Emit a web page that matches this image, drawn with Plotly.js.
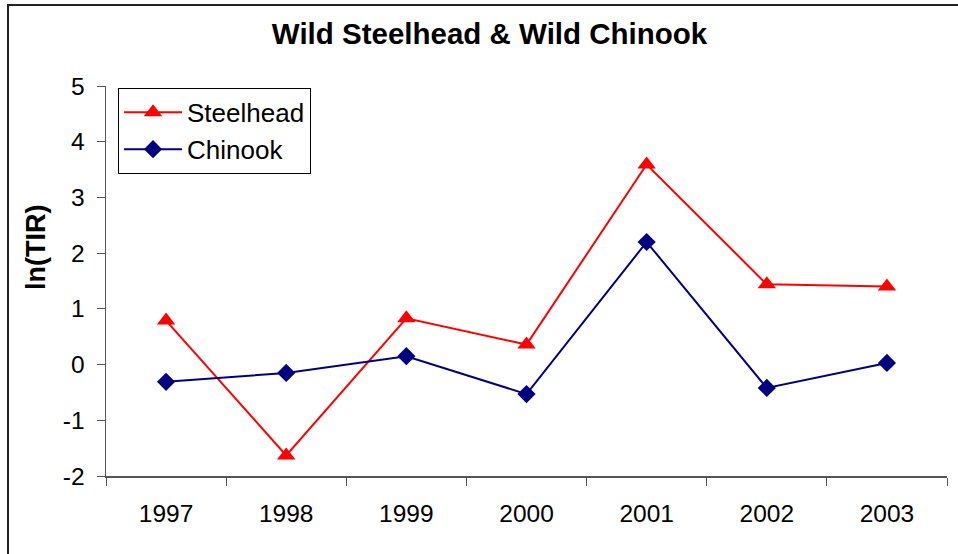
<!DOCTYPE html>
<html>
<head>
<meta charset="utf-8">
<script src="https://cdn.plot.ly/plotly-3.0.1.min.js"></script>
<style>
html,body{margin:0;padding:0;background:#fff;}
#wrap{position:relative;width:958px;height:554px;overflow:hidden;}
#chart{position:absolute;left:0;top:0;width:958px;height:554px;}
#frame{position:absolute;left:7px;top:4px;width:1000px;height:600px;border-left:2px solid #222;border-top:2px solid #222;pointer-events:none;}
</style>
</head>
<body>
<div id="wrap"><div id="chart"></div><div id="frame"></div></div>
<script>
const years = ['1997','1998','1999','2000','2001','2002','2003'];
const steelhead = [0.79, -1.63, 0.83, 0.36, 3.59, 1.44, 1.40];
const chinook = [-0.31, -0.15, 0.15, -0.53, 2.20, -0.42, 0.03];
const yTicks = [-2, -1, 0, 1, 2, 3, 4, 5];
const yTickText = ['-2', '-1', '0', '1', '2', '3', '4', '5'];

const font = 'Liberation Sans, Arial, sans-serif';
const traces = [
  {x: years, y: steelhead, name: 'Steelhead', type: 'scatter', mode: 'lines+markers',
   line: {color: '#ff0000', width: 2}, marker: {symbol: 'triangle-up', size: 16, color: '#ff0000'}},
  {x: years, y: chinook, name: 'Chinook', type: 'scatter', mode: 'lines+markers',
   line: {color: '#000080', width: 2}, marker: {symbol: 'diamond', size: 14, color: '#000080'}}
];
const layout = {
  width: 958, height: 554,
  margin: {l: 106, r: 11, t: 86, b: 78},
  paper_bgcolor: '#fff', plot_bgcolor: '#fff',
  font: {family: font, color: '#000', size: 24},
  title: {text: '<b>Wild Steelhead & Wild Chinook</b>', x: 0.511, xanchor: 'center', y: 0.94, yanchor: 'middle',
          font: {family: font, size: 29.5, color: '#000'}},
  xaxis: {type: 'category', range: [-0.5, 6.5], tickson: 'boundaries', ticks: 'outside', ticklen: 8,
          tickcolor: '#555', tickwidth: 1, showline: true, linecolor: '#555', linewidth: 1.5,
          showgrid: false, zeroline: false, tickfont: {size: 24.5, family: font}, ticklabelstandoff: 15, fixedrange: true},
  yaxis: {range: [-2, 5], tickvals: yTicks, ticktext: yTickText, ticks: 'outside', ticklen: 8, tickcolor: '#555', tickwidth: 1,
          showline: true, linecolor: '#555', linewidth: 1.5, showgrid: false, zeroline: false,
          tickfont: {size: 24.5, family: font}, ticklabelstandoff: 7, fixedrange: true},
  annotations: [{text: '<b>ln(TIR)</b>', xref: 'paper', yref: 'paper', x: (36 - 106) / 841, y: (476 - 248) / 390,
                 xanchor: 'center', yanchor: 'middle', textangle: -90, showarrow: false,
                 font: {size: 27, family: font, color: '#000'}}],
  showlegend: true,
  legend: {x: 0.0143, y: 0.995, xanchor: 'left', yanchor: 'top', bordercolor: '#000', borderwidth: 1,
           bgcolor: '#fff', font: {size: 26, family: font}, tracegroupgap: 0, itemwidth: 58},
};
Plotly.newPlot('chart', traces, layout, {displayModeBar: false, staticPlot: true});
</script>
</body>
</html>
